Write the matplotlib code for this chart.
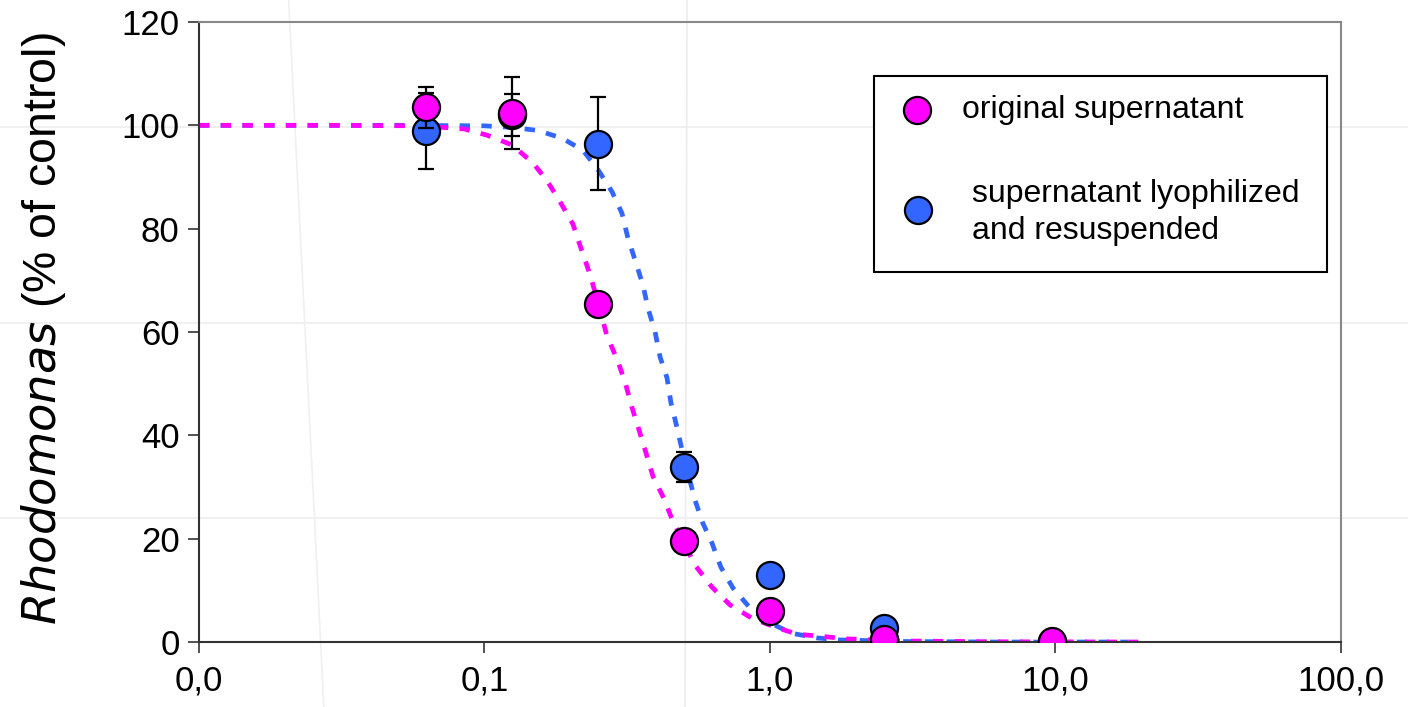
import matplotlib
matplotlib.use('Agg')
import matplotlib.pyplot as plt
from matplotlib.ticker import FixedLocator, FixedFormatter, NullLocator
from matplotlib.patches import Rectangle
from matplotlib.lines import Line2D

plt.rcParams['font.family'] = ['Liberation Sans', 'DejaVu Sans']

# --- dati ---
conc = [0.0625, 0.125, 0.25, 0.5, 1.0, 2.5, 9.7]

orig_y = [103.5, 102.4, 65.4, 19.5, 6.0, 0.6, 0.2]
orig_err = [4.0, 7.0, 2.0, 0.0, 0.0, 0.0, 0.0]

lyo_y = [98.9, 102.0, 96.4, 33.9, 13.0, 2.7, 0.0]
lyo_err = [7.4, 4.0, 9.0, 2.9, 0.0, 0.0, 0.0]

# curve di fit (tratteggiate)
fit_orig_x = [0.01, 0.03, 0.06, 0.085, 0.102, 0.125, 0.148, 0.166, 0.184, 0.204,
              0.216, 0.232, 0.250, 0.268, 0.294, 0.313, 0.329, 0.348, 0.368, 0.389,
              0.424, 0.457, 0.50, 0.546, 0.627, 0.724, 0.865, 1.04, 1.25, 1.52,
              1.86, 3.0, 6.0, 19.5]
fit_orig_y = [100, 100, 99.9, 99.3, 98.1, 96.2, 92.7, 89.2, 85.2, 80.9,
              76.8, 71.8, 65.8, 59.4, 54.2, 49.7, 45.3, 41.0, 36.6, 32.1,
              27.9, 23.4, 19.2, 14.9, 10.6, 7.2, 4.6, 2.9, 1.5, 1.1,
              0.6, 0.2, 0.05, 0.0]

fit_lyo_x = [0.01, 0.05, 0.1, 0.125, 0.154, 0.187, 0.221, 0.250, 0.280, 0.303,
             0.318, 0.337, 0.359, 0.374, 0.396, 0.412, 0.436, 0.450, 0.472, 0.492,
             0.546, 0.582, 0.626, 0.673, 0.741, 0.851, 0.984, 1.19, 1.46, 1.76,
             3.0, 6.0, 18.0]
fit_lyo_y = [100, 100, 99.9, 99.6, 99.0, 97.5, 95.2, 91.4, 87.1, 83.0,
             78.2, 73.9, 69.1, 64.6, 60.0, 55.2, 51.1, 46.3, 41.6, 37.2,
             27.5, 23.0, 19.2, 14.5, 10.5, 6.6, 3.9, 1.7, 0.8, 0.4,
             0.1, 0.0, 0.0]

x_ticks = [0.01, 0.1, 1, 10, 100]
x_labels = ['0,0', '0,1', '1,0', '10,0', '100,0']
y_ticks = [0, 20, 40, 60, 80, 100, 120]

magenta = '#FF00FF'
blu = '#3366FF'

fig = plt.figure(figsize=(14.08, 7.07), dpi=100)
ax = fig.add_axes([0.1413, 0.0919, 0.8111, 0.8770])
ax.patch.set_visible(False)

# filigrana di sfondo (linee molto chiare)
for yy in [0.820, 0.543, 0.267]:
    fig.add_artist(Line2D([0, 1], [yy, yy], color='#EDEDED', lw=1.2, zorder=0))
fig.add_artist(Line2D([0.4865, 0.4880], [0, 1], color='#EDEDED', lw=1.2, zorder=0))
fig.add_artist(Line2D([0.205, 0.230], [1, 0], color='#F0F0F0', lw=1.2, zorder=0))

# curve
ax.plot(fit_lyo_x, fit_lyo_y, color=blu, lw=3.4, dashes=(2.2, 2.4), zorder=2)
ax.plot(fit_orig_x, fit_orig_y, color=magenta, lw=3.4, dashes=(2.2, 2.4), zorder=2.1)

# barre d'errore e punti
ax.errorbar(conc, lyo_y, yerr=lyo_err, fmt='none', ecolor='black', elinewidth=1.6,
            capsize=6, capthick=1.6, zorder=3)
ax.plot(conc, lyo_y, 'o', color=blu, markersize=19.5, markeredgecolor='black',
        markeredgewidth=1.6, zorder=4, linestyle='none')
ax.errorbar(conc, orig_y, yerr=orig_err, fmt='none', ecolor='black', elinewidth=1.6,
            capsize=6, capthick=1.6, zorder=5)
ax.plot(conc, orig_y, 'o', color=magenta, markersize=19.5, markeredgecolor='black',
        markeredgewidth=1.6, zorder=6, linestyle='none')

ax.set_xscale('log')
ax.set_xlim(0.01, 100)
ax.set_ylim(0, 120)
ax.xaxis.set_major_locator(FixedLocator(x_ticks))
ax.xaxis.set_major_formatter(FixedFormatter(x_labels))
ax.xaxis.set_minor_locator(NullLocator())
ax.set_yticks(y_ticks)

ax.tick_params(axis='both', which='major', labelsize=25, length=8, width=1.2,
               direction='out', color='#333333')
ax.tick_params(axis='x', pad=8)
ax.tick_params(axis='y', pad=6)

ax.spines['left'].set_color('#333333')
ax.spines['bottom'].set_color('#333333')
ax.spines['top'].set_color('#888888')
ax.spines['right'].set_color('#888888')
for s in ax.spines.values():
    s.set_linewidth(1.5)

# etichetta asse y (Rhodomonas in corsivo)
fig.text(0.031, 0.535, r'$\mathit{Rhodomonas}$ (% of control)', rotation=90,
         ha='center', va='center', fontsize=33.5)

# legenda costruita a mano
ax.add_patch(Rectangle((0.591, 0.597), 0.397, 0.316, transform=ax.transAxes,
                       facecolor='white', edgecolor='black', lw=1.5, zorder=7))
ax.plot([0.629], [0.858], 'o', transform=ax.transAxes, color=magenta, markersize=19.5,
        markeredgecolor='black', markeredgewidth=1.6, zorder=8, clip_on=False)
ax.plot([0.630], [0.697], 'o', transform=ax.transAxes, color=blu, markersize=19.5,
        markeredgecolor='black', markeredgewidth=1.6, zorder=8, clip_on=False)
ax.text(0.668, 0.858, 'original supernatant', transform=ax.transAxes,
        fontsize=23, va='center', ha='left', zorder=8)
ax.text(0.677, 0.693, 'supernatant lyophilized\nand resuspended', transform=ax.transAxes,
        fontsize=23, va='center', ha='left', linespacing=1.32, zorder=8)

plt.savefig('out.png', dpi=100)
plt.close()
